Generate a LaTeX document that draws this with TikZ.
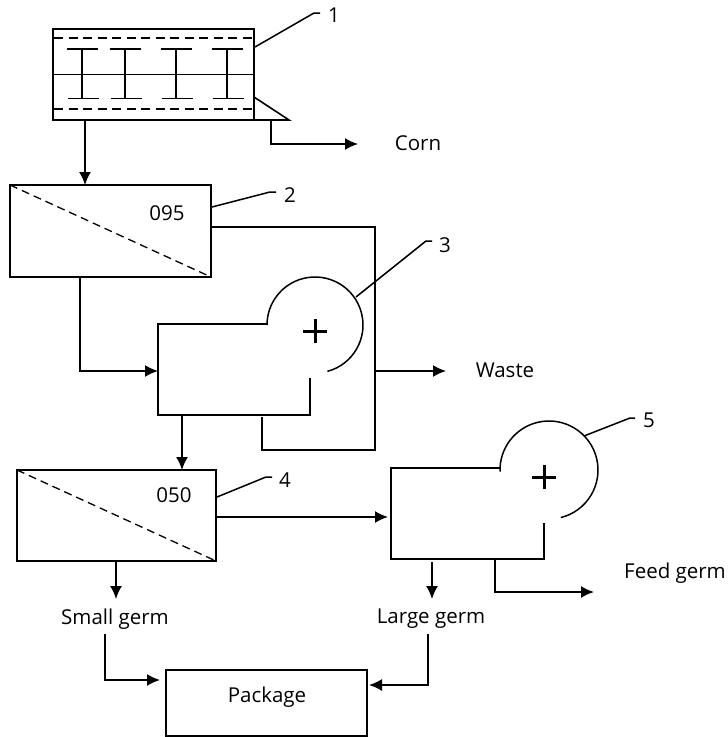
\documentclass[tikz,border=0pt]{standalone}
\usepackage{fontspec}
\setmainfont{Open Sans}
\usetikzlibrary{arrows.meta,calc}
\tikzset{
  box/.style={draw,line width=1.6pt,inner sep=0pt,outer sep=0pt,anchor=north west},
  lab/.style={inner sep=0pt,font=\fontsize{20.5}{23}\selectfont},
  flow/.style={line width=1.6pt,-{Latex[length=13pt,width=12pt]}},
  pipe/.style={line width=1.6pt},
  leader/.style={line width=1.5pt},
  ibeam/.style={line width=1.6pt},
  dash1/.style={line width=1.5pt,dash pattern=on 9pt off 5.5pt},
  dash2/.style={line width=1.3pt,dash pattern=on 8pt off 5pt},
  drum/.style={line width=1.5pt},
  plus/.style={line width=3pt}
}
\begin{document}
\begin{tikzpicture}[x=1pt,y=-1pt,line join=miter]
\useasboundingbox (0,0) rectangle (728,737);
% Screen 1
\node[box,minimum width=201pt,minimum height=91pt] (b1) at (53,29) {};
\draw[line width=0.7pt] (b1.west) -- (b1.east);
\draw[dash1] (54,38) -- (253,38);
\draw[dash1] (54,109) -- (252,109);
\foreach \x in {82,125,176,227}{
  \draw[ibeam] (\x-15.5,49)--(\x+15.5,49);
  \draw[ibeam] (\x-14.5,98.5)--(\x+16.5,98.5);
  \draw[ibeam] (\x,49)--(\x,98.5);
}
\draw[pipe] (254,97) -- (289,120) -- (254,120);
\coordinate (b1out) at (271,120);
\coordinate (cornEnd) at (358,144);
\draw[flow] (b1out) |- (cornEnd);
\node[lab] (corn) at (418,143.5) {Corn};
\coordinate (l1a) at (255,47);
\coordinate (l1b) at (314,13);
\coordinate (l1c) at (320,13);
\draw[leader] (l1a)--(l1b)--(l1c);
\node[lab] (n1) at (334,15.5) {1};
% Screen 2
\node[box,minimum width=201pt,minimum height=92pt] (b2) at (10,185) {};
\draw[dash2] (b2.north west) -- (b2.south east);
\node[lab] (t095) at (167,213) {095};
\draw[flow] (85,120) -- (85,185);
\coordinate (l2a) at (212,207);
\coordinate (l2b) at (270,192);
\coordinate (l2c) at (276,192);
\draw[leader] (l2a)--(l2b)--(l2c);
\node[lab] (n2) at (290,195.5) {2};
% Separator 3
\coordinate (s3a) at (267,324);
\coordinate (s3b) at (310,378);
\draw[pipe] (s3a) -- (158,324) -- (158,415) -- (310,415) -- (s3b);
\coordinate (s3c) at (315,325);
\draw[drum] (s3c) ++(75:48) arc[start angle=75,end angle=-180,radius=48];
\draw[plus] (303,331)--(327,331) (315,319)--(315,343);
\coordinate (l3a) at (356,297);
\coordinate (l3b) at (426,241);
\coordinate (l3c) at (432,241);
\draw[leader] (l3a)--(l3b)--(l3c);
\node[lab] (n3) at (445,245) {3};
% Lines around 3
\coordinate (r1) at (212,227);
\coordinate (r2) at (375,227);
\coordinate (r3) at (375,450);
\coordinate (r4) at (262,450);
\coordinate (r5) at (262,417);
\draw[pipe] (r1)--(r2)--(r3)--(r4)--(r5);
\coordinate (wa) at (375,371);
\coordinate (wb) at (446,371);
\draw[flow] (wa)--(wb);
\node[lab] (waste) at (505,370) {Waste};
\coordinate (i3a) at (80,277);
\coordinate (i3b) at (158,371);
\draw[flow] (i3a) |- (i3b);
\coordinate (o3a) at (182,415);
\coordinate (o3b) at (182,470);
\draw[flow] (o3a)--(o3b);
% Screen 4
\node[box,minimum width=199pt,minimum height=91pt] (b4) at (17,470) {};
\draw[dash2] (b4.north west) -- (b4.south east);
\node[lab] (t050) at (174,495) {050};
\coordinate (l4a) at (217,497);
\coordinate (l4b) at (266,477);
\coordinate (l4c) at (272,477);
\draw[leader] (l4a)--(l4b)--(l4c);
\node[lab] (n4) at (285,480) {4};
\coordinate (i5a) at (217,517);
\coordinate (i5b) at (388,517);
\draw[flow] (i5a)--(i5b);
% Separator 5
\coordinate (s5a) at (500,468);
\coordinate (s5b) at (544,523);
\draw[pipe] (s5a) -- (391,468) -- (391,559) -- (544,559) -- (s5b);
\coordinate (s5c) at (549,470);
\draw[drum] (s5c) ++(76:49) arc[start angle=76,end angle=-182,radius=49];
\draw[plus] (532,477)--(556,477) (544,465)--(544,489);
\coordinate (l5a) at (584,436);
\coordinate (l5b) at (630,418);
\coordinate (l5c) at (635,418);
\draw[leader] (l5a)--(l5b)--(l5c);
\node[lab] (n5) at (649,420) {5};
% Products
\node[lab] (small) at (115,619) {Small germ};
\node[lab] (large) at (431,619) {Large germ};
\node[lab] (feed) at (675,573) {Feed germ};
\coordinate (s4out) at (116,561);
\draw[flow] (s4out) -- (116,599);
\coordinate (l5out) at (432,562);
\draw[flow] (l5out) -- (432,599);
\coordinate (f5a) at (495,560);
\coordinate (f5b) at (594,592);
\draw[flow] (f5a) |- (f5b);
% Package
\node[box,minimum width=201pt,minimum height=66pt] (pack) at (166,670) {};
\node[lab] (packt) at (267,697) {Package};
\coordinate (sp1) at (105,634);
\coordinate (sp2) at (160,680);
\draw[flow] (sp1) |- (sp2);
\coordinate (lp1) at (428,634);
\coordinate (lp2) at (369,685);
\draw[flow] (lp1) |- (lp2);
\end{tikzpicture}
\end{document}
